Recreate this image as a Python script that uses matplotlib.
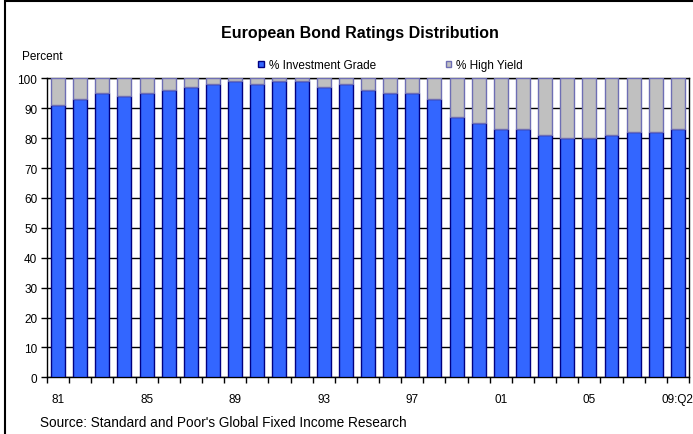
import matplotlib.pyplot as plt
import numpy as np

# Data
YEARS = ["81", "82", "83", "84", "85", "86", "87", "88", "89", "90",
         "91", "92", "93", "94", "95", "96", "97", "98", "99", "00",
         "01", "02", "03", "04", "05", "06", "07", "08", "09:Q2"]
INVESTMENT_GRADE = [91, 93, 95, 94, 95, 96, 97, 98, 99, 98,
                    99, 99, 97, 98, 96, 95, 95, 93, 87, 85,
                    83, 83, 81, 80, 80, 81, 82, 82, 83]
HIGH_YIELD = [9, 7, 5, 6, 5, 4, 3, 2, 1, 2,
              1, 1, 3, 2, 4, 5, 5, 7, 13, 15,
              17, 17, 19, 20, 20, 19, 18, 18, 17]
LABEL_EVERY = 4

BLUE = "#3366FF"
BLUE_EDGE = "#000080"
GRAY = "#C0C0C0"
GRAY_EDGE = "#6E6EB4"

plt.rcParams["font.family"] = ["Liberation Sans", "DejaVu Sans"]

fig = plt.figure(figsize=(6.93, 4.35), dpi=100)
ax = fig.add_axes([0.0678, 0.1303, 0.9264, 0.6874])

x = np.arange(len(YEARS))
ax.bar(x, INVESTMENT_GRADE, width=0.63, color=BLUE, edgecolor=BLUE_EDGE,
       linewidth=1.0, zorder=3, label="% Investment Grade")
ax.bar(x, HIGH_YIELD, bottom=INVESTMENT_GRADE, width=0.63, color=GRAY,
       edgecolor=GRAY_EDGE, linewidth=1.0, zorder=3, label="% High Yield")

ax.set_xlim(-0.5, len(YEARS) - 0.5)
ax.set_ylim(0, 100)
ax.set_yticks(range(0, 101, 10))
ax.yaxis.grid(True, color="black", linewidth=1.0, zorder=0)
ax.set_axisbelow(True)

# tick marks sit between bars, labels under every fourth bar
ax.set_xticks(np.arange(-0.5, len(YEARS), 1.0))
ax.set_xticklabels([])
label_pos = [i for i in range(len(YEARS)) if i % LABEL_EVERY == 0]
ax.set_xticks(label_pos, minor=True)
ax.set_xticklabels([YEARS[i] for i in label_pos], minor=True)
ax.tick_params(axis="x", which="major", length=4, width=1, direction="out")
ax.tick_params(axis="x", which="minor", length=0, pad=11, labelsize=8.5)
ax.tick_params(axis="y", length=4, width=1, labelsize=8.5, pad=3)

for side in ["left", "bottom", "top", "right"]:
    ax.spines[side].set_color("black")
    ax.spines[side].set_linewidth(1.0)

fig.text(0.519, 0.923, "European Bond Ratings Distribution", ha="center",
         va="center", fontsize=11.5, fontweight="bold")
fig.text(0.032, 0.869, "Percent", ha="left", va="center", fontsize=8.5)
fig.text(0.058, 0.027, "Source: Standard and Poor's Global Fixed Income Research",
         ha="left", va="center", fontsize=9.8)

ax.legend(loc="lower left", bbox_to_anchor=(0.318, 1.0), ncol=2, frameon=False,
          fontsize=8.5, handlelength=0.45, handleheight=0.45, handletextpad=0.45,
          columnspacing=5.9, borderaxespad=0.2)

# outer frame around the chart
fig.patches.append(plt.Rectangle((0.007, -0.01), 1.2, 1.005,
                                 transform=fig.transFigure, fill=False,
                                 edgecolor="black", linewidth=1.5))

fig.savefig("out.png", dpi=100)
